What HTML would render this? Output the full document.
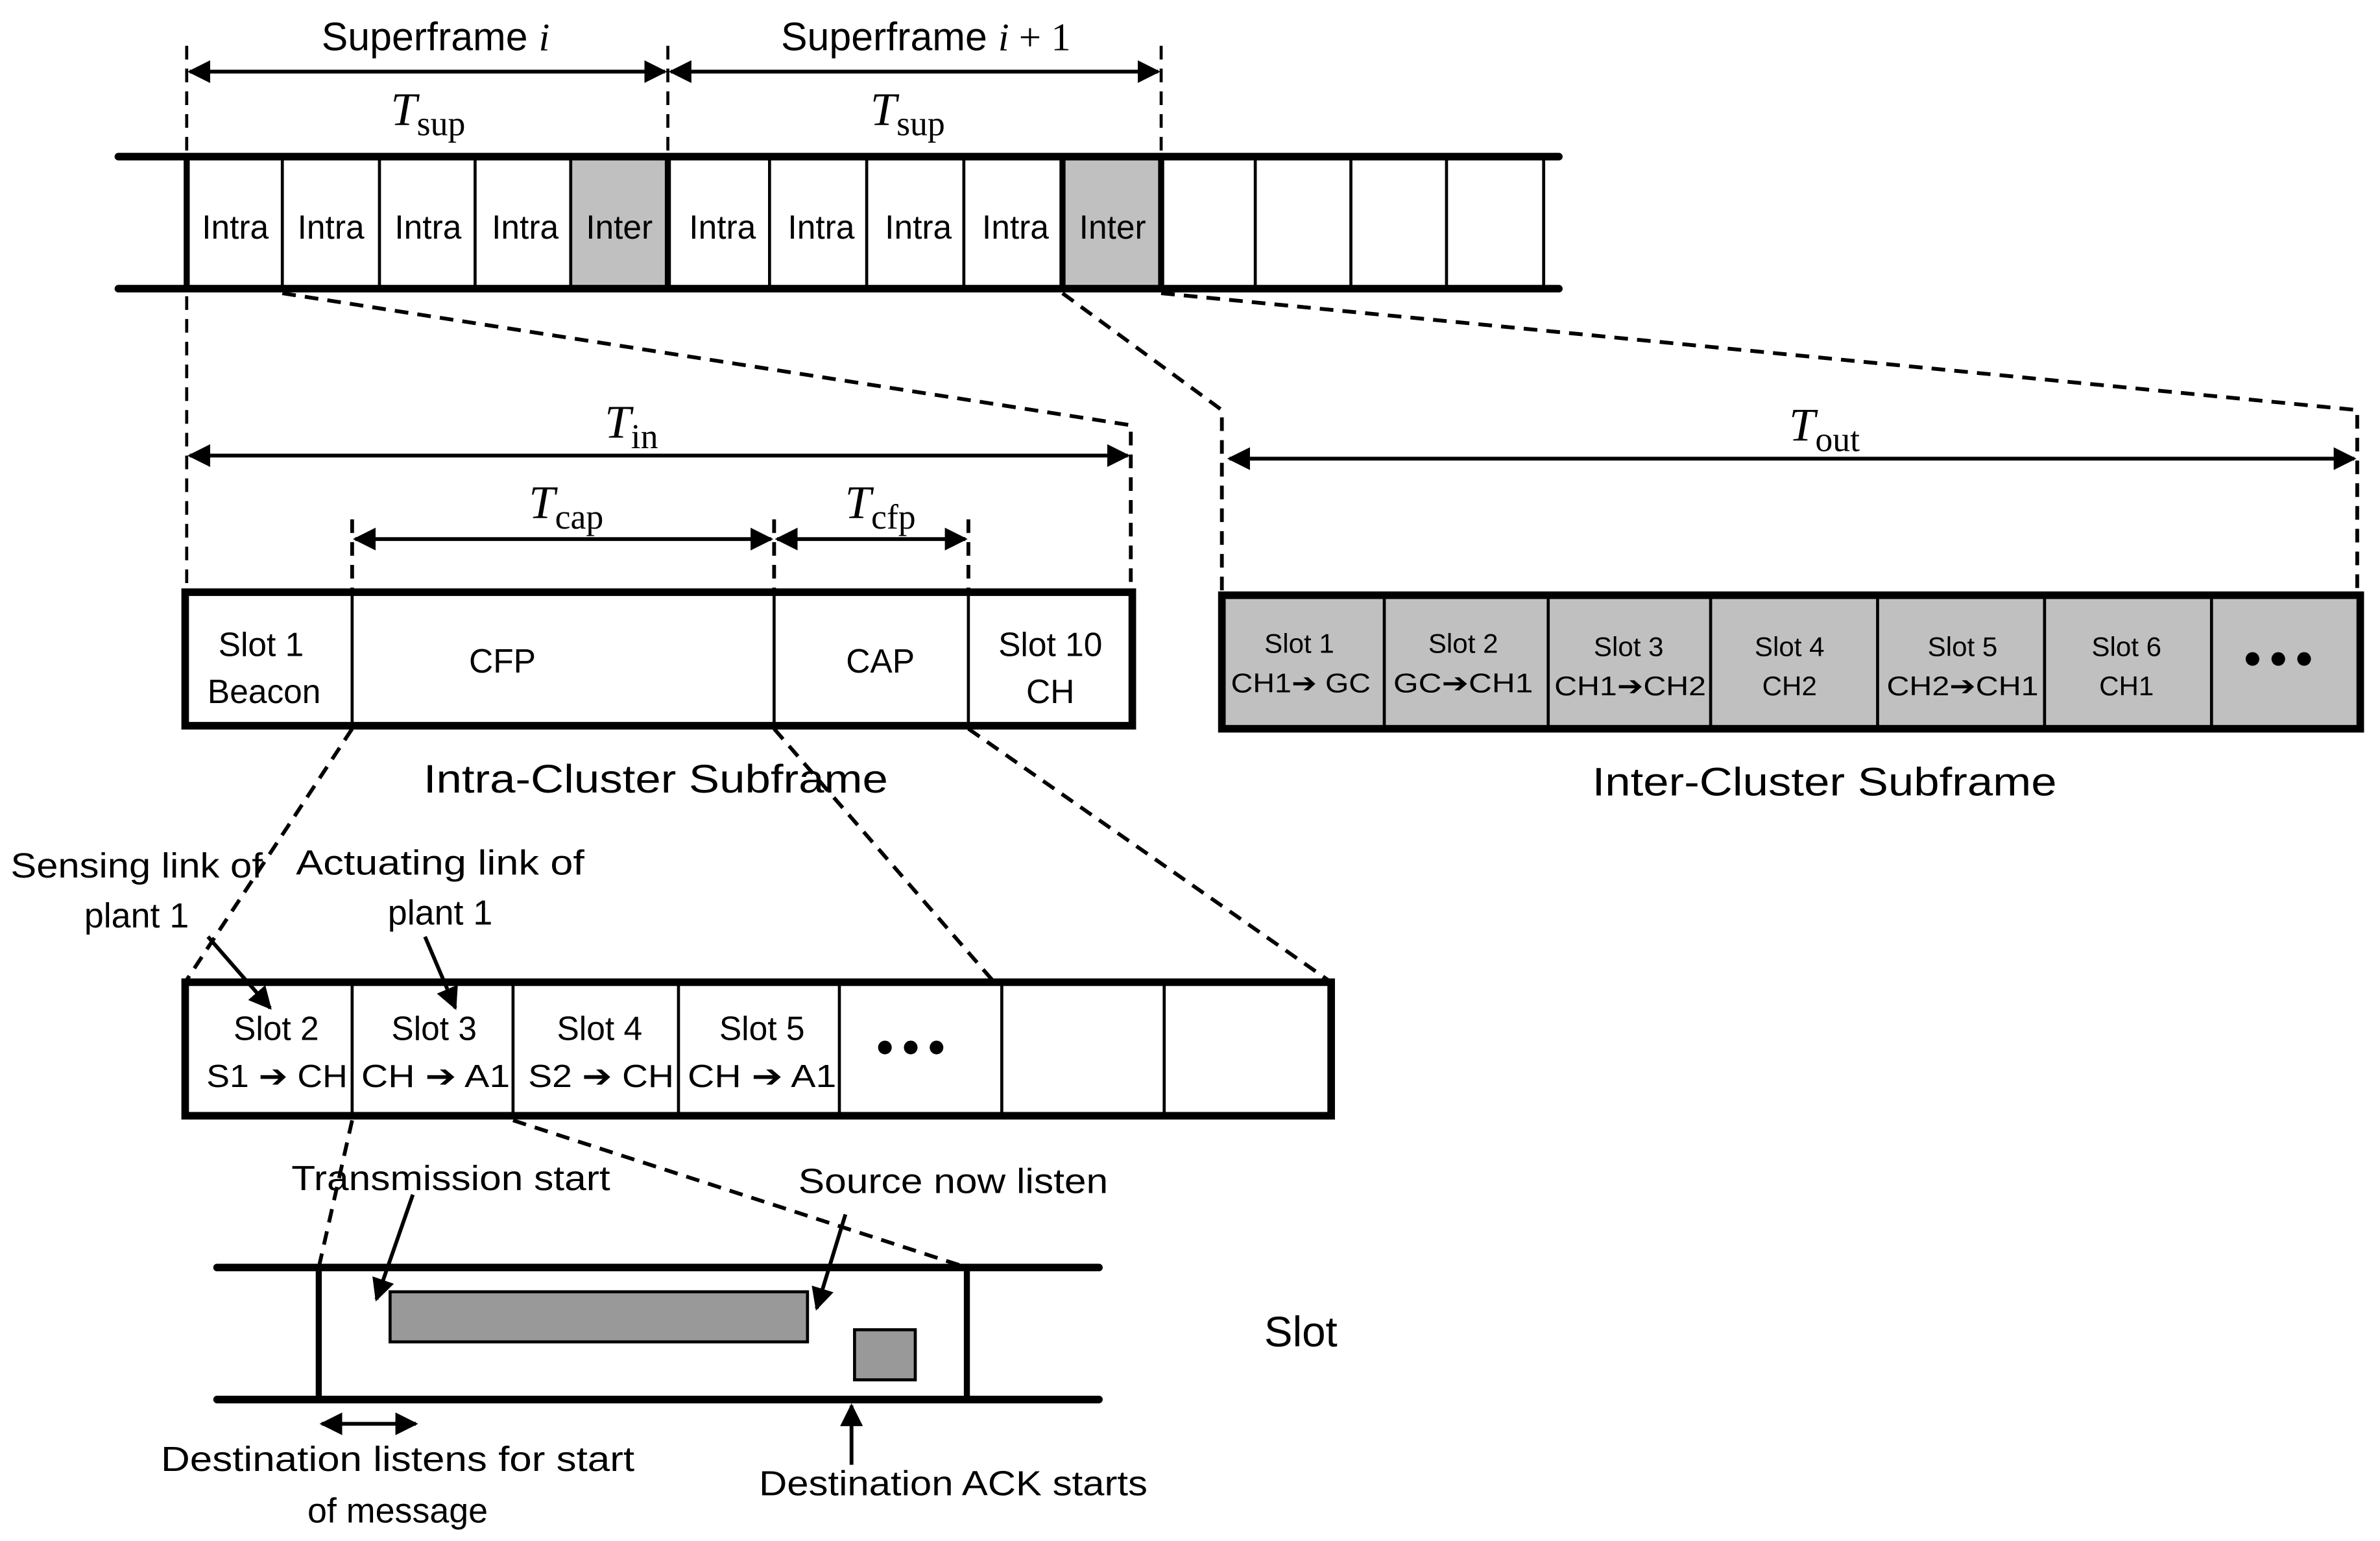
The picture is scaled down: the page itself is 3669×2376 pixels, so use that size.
<!DOCTYPE html>
<html><head><meta charset="utf-8"><style>
html,body{margin:0;padding:0;background:#fff;}
svg{display:block;}
text{font-family:"Liberation Sans",sans-serif;fill:#000;}
.m{font-family:"Liberation Serif",serif;}
</style></head><body>
<svg width="3669" height="2376" viewBox="0 0 1568 1015" xmlns="http://www.w3.org/2000/svg">
<defs>
<marker id="a" viewBox="0 0 10 10" refX="9" refY="5" markerWidth="6" markerHeight="6" orient="auto-start-reverse"><path d="M0,0L10,5L0,10z" fill="#000"/></marker>
<marker id="b" viewBox="0 0 10 10" refX="9" refY="5" markerWidth="6" markerHeight="6" orient="auto-start-reverse"><path d="M0,0L10,5L0,10z" fill="#000"/></marker>
</defs>
<g stroke="#000" fill="none">
<rect x="376" y="103" width="64" height="87" fill="#c0c0c0" stroke="none"/>
<rect x="700" y="103" width="65" height="87" fill="#c0c0c0" stroke="none"/>
<line x1="78" y1="103" x2="1027" y2="103" stroke-width="5" stroke-linecap="round"/>
<line x1="78" y1="190" x2="1027" y2="190" stroke-width="5" stroke-linecap="round"/>
<g stroke-width="2">
<line x1="186" y1="103" x2="186" y2="190"/><line x1="250" y1="103" x2="250" y2="190"/>
<line x1="313" y1="103" x2="313" y2="190"/><line x1="376" y1="103" x2="376" y2="190"/>
<line x1="507" y1="103" x2="507" y2="190"/><line x1="571" y1="103" x2="571" y2="190"/>
<line x1="635" y1="103" x2="635" y2="190"/>
<line x1="827" y1="103" x2="827" y2="190"/><line x1="890" y1="103" x2="890" y2="190"/>
<line x1="953" y1="103" x2="953" y2="190"/><line x1="1017" y1="103" x2="1017" y2="190"/>
</g>
<g stroke-width="4">
<line x1="123" y1="103" x2="123" y2="190"/><line x1="440" y1="103" x2="440" y2="190"/>
<line x1="700" y1="103" x2="700" y2="190"/><line x1="765" y1="103" x2="765" y2="190"/>
</g>
<g stroke-width="2" stroke-dasharray="9,6">
<line x1="123" y1="30" x2="123" y2="390"/>
<line x1="440" y1="30" x2="440" y2="103"/>
<line x1="765" y1="30" x2="765" y2="103"/>
</g>
<g stroke-width="2.5" stroke-dasharray="9,6">
<polyline points="186,193 745,280 745,390"/>
<polyline points="700,193 805,270 805,392"/>
<polyline points="765,193 1553,270 1553,392"/>
<line x1="232" y1="342" x2="232" y2="390"/>
<line x1="510" y1="342" x2="510" y2="390"/>
<line x1="638" y1="342" x2="638" y2="390"/>
<line x1="232" y1="480" x2="122" y2="647"/>
<line x1="510" y1="480" x2="655" y2="647"/>
<line x1="638" y1="480" x2="877" y2="647"/>
<line x1="232" y1="738" x2="210" y2="835"/>
<line x1="338" y1="738" x2="637" y2="835"/>
</g>
<g stroke-width="2.5">
<line x1="125" y1="47" x2="438" y2="47" marker-start="url(#b)" marker-end="url(#b)"/>
<line x1="442" y1="47" x2="763" y2="47" marker-start="url(#b)" marker-end="url(#b)"/>
<line x1="125" y1="300" x2="743" y2="300" marker-start="url(#b)" marker-end="url(#b)"/>
<line x1="810" y1="302" x2="1551" y2="302" marker-start="url(#b)" marker-end="url(#b)"/>
<line x1="234" y1="355" x2="508" y2="355" marker-start="url(#b)" marker-end="url(#b)"/>
<line x1="512" y1="355" x2="636" y2="355" marker-start="url(#b)" marker-end="url(#b)"/>
</g>
<rect x="122" y="390" width="624" height="88" fill="#fff" stroke-width="5"/>
<g stroke-width="2"><line x1="232" y1="390" x2="232" y2="478"/><line x1="510" y1="390" x2="510" y2="478"/><line x1="638" y1="390" x2="638" y2="478"/></g>
<rect x="805" y="392" width="750" height="88" fill="#c0c0c0" stroke-width="5"/>
<g stroke-width="2">
<line x1="912" y1="392" x2="912" y2="480"/><line x1="1020" y1="392" x2="1020" y2="480"/>
<line x1="1127" y1="392" x2="1127" y2="480"/><line x1="1237" y1="392" x2="1237" y2="480"/>
<line x1="1347" y1="392" x2="1347" y2="480"/><line x1="1457" y1="392" x2="1457" y2="480"/>
</g>
<rect x="122" y="647" width="755" height="88" fill="#fff" stroke-width="5"/>
<g stroke-width="2">
<line x1="232" y1="647" x2="232" y2="735"/><line x1="338" y1="647" x2="338" y2="735"/>
<line x1="447" y1="647" x2="447" y2="735"/><line x1="553" y1="647" x2="553" y2="735"/>
<line x1="660" y1="647" x2="660" y2="735"/><line x1="767" y1="647" x2="767" y2="735"/>
</g>
<g stroke-width="2.5">
<line x1="137" y1="617" x2="178" y2="664" marker-end="url(#a)"/>
<line x1="280" y1="617" x2="300" y2="664" marker-end="url(#a)"/>
<line x1="272" y1="787" x2="248" y2="856" marker-end="url(#a)"/>
<line x1="557" y1="800" x2="538" y2="862" marker-end="url(#a)"/>
<line x1="561" y1="965" x2="561" y2="926" marker-end="url(#a)"/>
<line x1="212" y1="938" x2="274" y2="938" marker-start="url(#a)" marker-end="url(#a)"/>
</g>
<line x1="143" y1="835" x2="724" y2="835" stroke-width="5" stroke-linecap="round"/>
<line x1="143" y1="922" x2="724" y2="922" stroke-width="5" stroke-linecap="round"/>
<line x1="210" y1="835" x2="210" y2="922" stroke-width="4"/>
<line x1="637" y1="835" x2="637" y2="922" stroke-width="4"/>
<rect x="257" y="851" width="275" height="33" fill="#999" stroke-width="2"/>
<rect x="563" y="876" width="40" height="33" fill="#999" stroke-width="2"/>
</g>
<g fill="#000"><circle cx="583" cy="690" r="4.5"/><circle cx="600" cy="690" r="4.5"/><circle cx="617" cy="690" r="4.5"/>
<circle cx="1484" cy="434" r="4.5"/><circle cx="1501" cy="434" r="4.5"/><circle cx="1518" cy="434" r="4.5"/></g>
<g font-size="26" text-anchor="middle">
<text x="287" y="33">Superframe <tspan class="m" font-style="italic">i</tspan></text>
<text x="610" y="33">Superframe <tspan class="m" font-style="italic">i</tspan><tspan class="m"> + 1</tspan></text>
</g>
<g class="m" font-size="31" text-anchor="middle" font-style="italic">
<text class="m" x="282" y="82">T<tspan font-style="normal" font-size="23" dy="7">sup</tspan></text>
<text class="m" x="598" y="82">T<tspan font-style="normal" font-size="23" dy="7">sup</tspan></text>
<text class="m" x="416" y="288">T<tspan font-style="normal" font-size="23" dy="7">in</tspan></text>
<text class="m" x="1202" y="290">T<tspan font-style="normal" font-size="23" dy="7">out</tspan></text>
<text class="m" x="373" y="341">T<tspan font-style="normal" font-size="23" dy="7">cap</tspan></text>
<text class="m" x="580" y="341">T<tspan font-style="normal" font-size="23" dy="7">cfp</tspan></text>
</g>
<g font-size="22" text-anchor="middle">
<text x="155" y="157">Intra</text><text x="218" y="157">Intra</text><text x="282" y="157">Intra</text><text x="346" y="157">Intra</text><text x="408" y="157">Inter</text>
<text x="476" y="157">Intra</text><text x="541" y="157">Intra</text><text x="605" y="157">Intra</text><text x="669" y="157">Intra</text><text x="733" y="157">Inter</text>
<text x="172" y="432">Slot 1</text><text x="174" y="463">Beacon</text>
<text x="331" y="443">CFP</text><text x="580" y="443">CAP</text>
<text x="692" y="432">Slot 10</text><text x="692" y="463">CH</text>
<text x="182" y="685">Slot 2</text><text x="286" y="685">Slot 3</text><text x="395" y="685">Slot 4</text><text x="502" y="685">Slot 5</text>
<text x="857" y="887" font-size="28">Slot</text>
</g>
<g font-size="21" text-anchor="start">
<text x="136" y="716" textLength="93" lengthAdjust="spacingAndGlyphs">S1 ➔ CH</text>
<text x="238" y="716" textLength="98" lengthAdjust="spacingAndGlyphs">CH ➔  A1</text>
<text x="348" y="716" textLength="96" lengthAdjust="spacingAndGlyphs">S2 ➔ CH</text>
<text x="453" y="716" textLength="98" lengthAdjust="spacingAndGlyphs">CH ➔  A1</text>
</g>
<g font-size="18" text-anchor="middle">
<text x="856" y="430">Slot 1</text><text x="964" y="430">Slot 2</text><text x="1073" y="432">Slot 3</text><text x="1179" y="432">Slot 4</text><text x="1293" y="432">Slot 5</text><text x="1401" y="432">Slot 6</text>
</g>
<g font-size="18">
<text x="811" y="456" textLength="92" lengthAdjust="spacingAndGlyphs">CH1➔ GC</text>
<text x="918" y="456" textLength="92" lengthAdjust="spacingAndGlyphs">GC➔CH1</text>
<text x="1024" y="458" textLength="100" lengthAdjust="spacingAndGlyphs">CH1➔CH2</text>
<text x="1179" y="458" text-anchor="middle">CH2</text>
<text x="1243" y="458" textLength="100" lengthAdjust="spacingAndGlyphs">CH2➔CH1</text>
<text x="1401" y="458" text-anchor="middle">CH1</text>
</g>
<g font-size="26" text-anchor="middle">
<text x="432" y="522" textLength="306" lengthAdjust="spacingAndGlyphs">Intra-Cluster Subframe</text>
<text x="1202" y="524" textLength="306" lengthAdjust="spacingAndGlyphs">Inter-Cluster Subframe</text>
</g>
<g font-size="23" text-anchor="middle">
<text x="90" y="578" textLength="166" lengthAdjust="spacingAndGlyphs">Sensing link of</text>
<text x="90" y="611">plant 1</text>
<text x="290" y="576" textLength="190" lengthAdjust="spacingAndGlyphs">Actuating link of</text>
<text x="290" y="609">plant 1</text>
<text x="297" y="784" textLength="210" lengthAdjust="spacingAndGlyphs">Transmission start</text>
<text x="628" y="786" textLength="204" lengthAdjust="spacingAndGlyphs">Source now listen</text>
<text x="262" y="969" textLength="312" lengthAdjust="spacingAndGlyphs">Destination listens for start</text>
<text x="262" y="1003">of message</text>
<text x="628" y="985" textLength="256" lengthAdjust="spacingAndGlyphs">Destination ACK starts</text>
</g>
</svg>
</body></html>
